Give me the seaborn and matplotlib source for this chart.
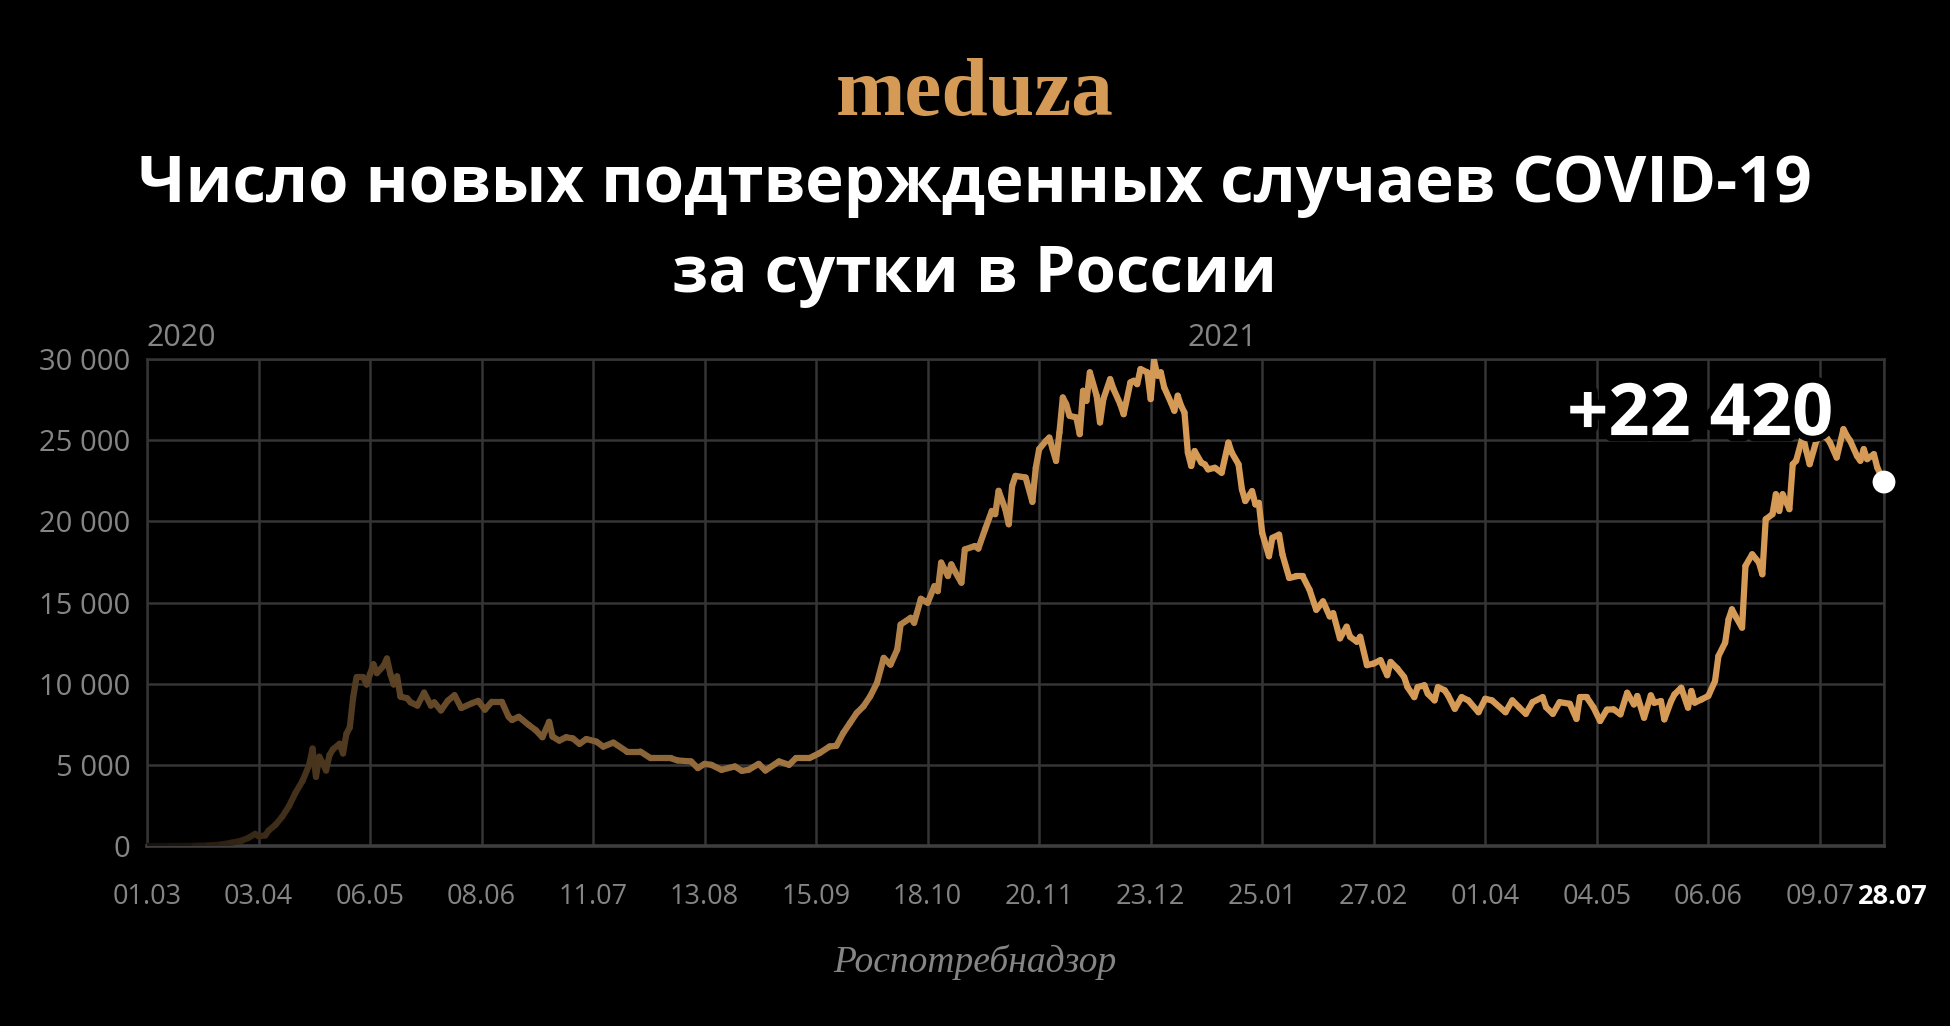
import numpy as np
import pandas as pd
import matplotlib
matplotlib.use('Agg')
import matplotlib.pyplot as plt
import matplotlib.patheffects as pe
import matplotlib.transforms as mtransforms
from matplotlib.colors import to_rgb
import seaborn as sns

# ─────────────────────────────────────────────
# Данные: дни от 01.03.2020 и число новых случаев
# ─────────────────────────────────────────────
START = pd.Timestamp('2020-03-01')

day_offsets = [
    0, 7, 14, 18, 22, 25, 28, 30, 32, 33,
    35, 36, 38, 40, 42, 44, 46, 48, 49, 50,
    51, 52, 53, 54, 55, 57, 58, 59, 60, 61,
    62, 64, 65, 66, 67, 68, 70, 71, 72, 73,
    74, 75, 77, 78, 80, 82, 84, 85, 87, 89,
    91, 93, 96, 98, 100, 102, 105, 107, 108, 110,
    113, 115, 117, 119, 120, 122, 124, 126, 128, 130,
    133, 135, 138, 142, 146, 149, 155, 157, 161, 163,
    165, 167, 170, 172, 174, 176, 178, 181, 183, 187,
    190, 192, 196, 199, 202, 204, 206, 208, 210, 212,
    214, 216, 218, 220, 222, 223, 226, 227, 229, 231,
    233, 234, 235, 237, 238, 239, 241, 242, 245, 246,
    248, 250, 251, 252, 254, 255, 256, 257, 260, 262,
    263, 264, 266, 267, 268, 269, 270, 271, 272, 273,
    275, 276, 277, 278, 279, 281, 282, 283, 285, 286,
    288, 289, 291, 292, 293, 294, 296, 297, 298, 299,
    300, 301, 303, 304, 305, 306, 307, 308, 309, 310,
    312, 313, 314, 316, 318, 320, 321, 323, 324, 325,
    327, 328, 329, 330, 332, 333, 335, 336, 338, 340,
    342, 344, 346, 348, 350, 351, 353, 355, 356, 358,
    359, 361, 363, 365, 367, 368, 370, 372, 373, 375,
    376, 378, 379, 381, 382, 384, 385, 387, 389, 391,
    394, 396, 398, 402, 404, 406, 408, 410, 413, 414,
    416, 418, 421, 423, 424, 426, 428, 430, 432, 434,
    436, 438, 440, 441, 443, 445, 446, 448, 449, 451,
    452, 454, 456, 457, 458, 460, 462, 464, 465, 467,
    468, 469, 470, 472, 473, 475, 477, 478, 479, 481,
    482, 483, 484, 486, 487, 488, 490, 491, 492, 494,
    495, 497, 498, 500, 502, 503, 504, 506, 507, 508,
    509, 511, 512, 514,
]

new_cases = [
    0, 2, 10, 30, 90, 200, 330, 500, 750, 600,
    650, 950, 1300, 1800, 2450, 3300, 4000, 5000, 6000, 4260,
    5500, 5100, 4650, 5600, 5950, 6300, 5700, 6900, 7300, 9150,
    10400, 10400, 9950, 10600, 11200, 10650, 11100, 11550, 10600, 9950,
    10450, 9200, 9100, 8850, 8650, 9450, 8650, 8850, 8350, 8950,
    9290, 8500, 8780, 8940, 8400, 8880, 8880, 7960, 7760, 7960,
    7450, 7140, 6700, 7650, 6740, 6490, 6700, 6630, 6290, 6590,
    6430, 6120, 6370, 5820, 5820, 5410, 5410, 5270, 5210, 4800,
    5060, 5000, 4690, 4800, 4900, 4630, 4690, 5060, 4650, 5210,
    5000, 5410, 5410, 5720, 6130, 6170, 6950, 7570, 8190, 8600,
    9220, 10040, 11590, 11170, 12100, 13640, 14060, 13750, 15230, 14980,
    16010, 15700, 17460, 16630, 17350, 16940, 16220, 18270, 18480, 18320,
    19510, 20640, 20440, 21880, 20740, 19820, 22180, 22800, 22700, 21200,
    23300, 24450, 24950, 25160, 24440, 23720, 25470, 27630, 27220, 26500,
    26400, 25370, 28040, 27420, 29180, 27740, 26090, 27530, 28760, 28150,
    27220, 26600, 28560, 28660, 28450, 29380, 29180, 27530, 29900, 28970,
    29180, 28250, 27320, 26810, 27740, 27120, 26700, 24230, 23410, 24330,
    23610, 23510, 23200, 23300, 22990, 24850, 24230, 23510, 21970, 21250,
    21860, 21040, 21140, 19290, 17850, 18980, 19180, 17950, 16510, 16610,
    16610, 15790, 14550, 15070, 14140, 14340, 12790, 13510, 12890, 12580,
    12890, 11140, 11240, 11450, 10520, 11340, 10930, 10410, 9790, 9170,
    9790, 9900, 9380, 8970, 9790, 9590, 9280, 8450, 9170, 8970,
    8240, 9070, 8970, 8240, 8970, 8550, 8140, 8860, 9170, 8550,
    8140, 8860, 8760, 7830, 9170, 9170, 8550, 7700, 8400, 8420,
    8110, 9440, 8720, 9240, 7900, 9280, 8820, 8930, 7800, 8930,
    9340, 9750, 8520, 9550, 8830, 9030, 9240, 10160, 11700, 12530,
    13960, 14580, 14170, 13450, 17250, 17970, 17460, 16740, 20130, 20440,
    21670, 20640, 21670, 20750, 23520, 23730, 25270, 24340, 23520, 24960,
    25270, 25160, 24860, 23930, 25680, 25270, 24960, 24030, 23730, 24450,
    23830, 24140, 23320, 22420,
]
assert len(day_offsets) == len(new_cases)

tick_days   = [0, 33, 66, 99, 132, 165, 198, 231, 264, 297, 330, 363, 396, 429, 462, 495, 514]
tick_labels = ['01.03', '03.04', '06.05', '08.06', '11.07', '13.08', '15.09', '18.10', '20.11',
               '23.12', '25.01', '27.02', '01.04', '04.05', '06.06', '09.07', '28.07']
ytick_values = [0, 5000, 10000, 15000, 20000, 25000, 30000]
year_labels = ['2020', '2021']
year_dates  = ['2020-03-01', '2021-01-03']

LOGO        = 'meduza'
TITLE_LINES = ['Число новых подтвержденных случаев COVID-19', 'за сутки в России']
LAST_LABEL  = '+22 420'
SOURCE      = 'Роспотребнадзор'

# ─────────────────────────────────────────────
# Стиль
# ─────────────────────────────────────────────
ORANGE = '#D49A56'
GRID   = '#353535'
GRAY   = '#858585'

sns.set_theme(style='dark')
plt.rcParams['font.family'] = ['Open Sans', 'DejaVu Sans']
plt.rcParams['axes.unicode_minus'] = False

dates = START + pd.to_timedelta(day_offsets, unit='D')
last_date, last_val = dates[-1], new_cases[-1]

# линия с градиентом: разбиваем на отрезки, у каждого свой цвет
rows = []
for i in range(len(dates) - 1):
    rows.append((dates[i], new_cases[i], i))
    rows.append((dates[i + 1], new_cases[i + 1], i))
seg_df = pd.DataFrame(rows, columns=['date', 'cases', 'seg'])

base = np.array(to_rgb(ORANGE))
palette = {}
for i in range(len(dates) - 1):
    mid = (day_offsets[i] + day_offsets[i + 1]) / 2
    a = max(0.12, min(1.0, (mid / 300) ** 0.6))
    palette[i] = tuple(base * a)

fig = plt.figure(figsize=(19.5, 10.26), dpi=100, facecolor='black')
ax = fig.add_axes([147 / 1950, 1 - 846 / 1026, 1737 / 1950, 487 / 1026])
ax.set_facecolor('black')

sns.lineplot(data=seg_df, x='date', y='cases', hue='seg', palette=palette,
             legend=False, estimator=None, sort=False, linewidth=4.5,
             solid_capstyle='round', solid_joinstyle='round', ax=ax, zorder=3)

sns.scatterplot(x=[last_date], y=[last_val], s=270, color='white',
                edgecolor='none', ax=ax, zorder=6, clip_on=False)

ax.set_xlim(START, START + pd.Timedelta(days=514))
ax.set_ylim(0, 30000)

tick_dates = START + pd.to_timedelta(tick_days, unit='D')
ax.set_xticks(tick_dates)
ax.set_xticklabels(tick_labels)
ax.set_yticks(ytick_values)
ax.set_yticklabels([f'{v:,}'.replace(',', ' ') for v in ytick_values])

ax.grid(True, color=GRID, linewidth=1.8)
ax.set_axisbelow(True)
for s in ax.spines.values():
    s.set_color(GRID)
    s.set_linewidth(1.8)
ax.spines['bottom'].set_color('#3e3e3e')
ax.spines['bottom'].set_linewidth(2.6)

ax.tick_params(axis='x', length=5, width=1.8, color=GRID, pad=22,
               labelsize=19.5, labelcolor=GRAY)
ax.tick_params(axis='y', length=0, pad=12, labelsize=21, labelcolor=GRAY)
lab = ax.get_xticklabels()[-1]
lab.set_color('white')
lab.set_fontweight('bold')
# последняя подпись чуть правее, чтобы не налезать на 09.07
lab.set_transform(lab.get_transform() +
                  mtransforms.ScaledTranslation(9 / 100, 0, fig.dpi_scale_trans))
ax.set_xlabel('')
ax.set_ylabel('')

# подписи годов
for txt, d in zip(year_labels, year_dates):
    ax.annotate(txt, xy=(pd.Timestamp(d), 30000), xytext=(0, 13),
                textcoords='offset pixels', ha='left', va='baseline',
                fontsize=22, color=GRAY, annotation_clip=False)

# последнее значение
ax.annotate(LAST_LABEL, xy=(last_date, last_val), xytext=(-51, 47),
            textcoords='offset pixels', ha='right', va='baseline',
            fontsize=52, fontweight='bold', color='white', zorder=5,
            path_effects=[pe.withStroke(linewidth=9, foreground='black')])

# логотип, заголовок, источник
fig.text(0.5, 1 - 115 / 1026, LOGO, ha='center', va='baseline',
         family='Liberation Serif', fontweight='bold', fontsize=60, color=ORANGE)

t1 = fig.text(0.5, 1 - 202 / 1026, TITLE_LINES[0], ha='center', va='baseline',
              fontsize=48, fontweight='bold', color='white')
fig.canvas.draw()
w = t1.get_window_extent().width
size = 48 * 1674 / w
t1.set_fontsize(size)
fig.text(0.5, 1 - 292 / 1026, TITLE_LINES[1], ha='center', va='baseline',
         fontsize=size, fontweight='bold', color='white')

fig.text(0.5, 1 - 972 / 1026, SOURCE, ha='center', va='baseline',
         family='Liberation Serif', style='italic', fontsize=27, color=GRAY)

plt.savefig('out.png', dpi=100, facecolor='black')
